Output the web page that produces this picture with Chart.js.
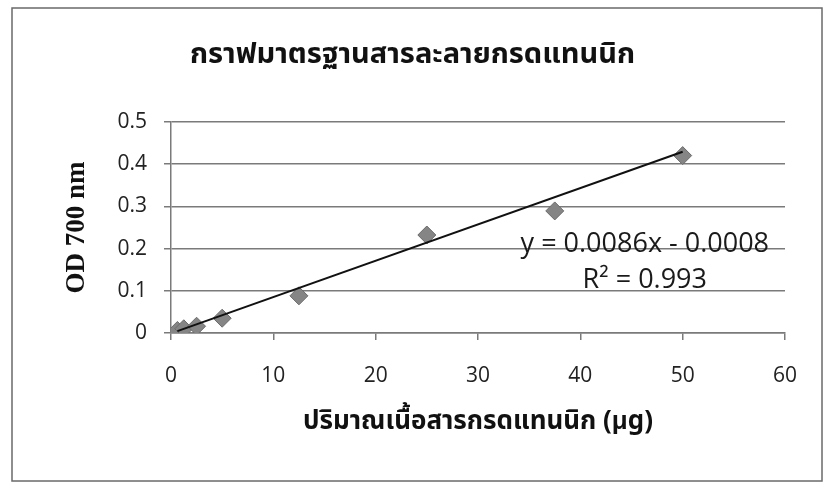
<!DOCTYPE html>
<html>
<head>
<meta charset="utf-8">
<script src="https://cdn.jsdelivr.net/npm/chart.js@4.4.1/dist/chart.umd.min.js"></script>
<style>
  html, body { margin: 0; padding: 0; background: #fff; }
  #wrap { width: 825px; height: 487px; }
</style>
</head>
<body>
<div id="wrap"><canvas id="c" width="825" height="487"></canvas></div>
<script>
// Standard curve: tannic acid amount (µg) vs. absorbance at 700 nm
const amountUg = [0.625, 1.25, 2.5, 5, 12.5, 25, 37.5, 50];
const od700 = [0.006, 0.010, 0.016, 0.035, 0.088, 0.232, 0.289, 0.420];

// Linear fit as reported on the chart
const fitSlope = 0.0086;
const fitIntercept = -0.0008;
const fitR2 = 0.993;

const chartTitle = 'กราฟมาตรฐานสารละลายกรดแทนนิก';
const xTitle = 'ปริมาณเนื้อสารกรดแทนนิก (μg)';
const yTitle = 'OD 700 nm';

const points = amountUg.map((x, i) => ({ x: x, y: od700[i] }));
const xLo = Math.min(...amountUg), xHi = Math.max(...amountUg);
const fitLine = [xLo, xHi].map(x => ({ x: x, y: fitSlope * x + fitIntercept }));

const thaiFont = '"Noto Sans Thai", "Noto Serif Thai", "Loma", "Garuda", "Norasi", sans-serif';
const numFont = '"Open Sans", "Noto Sans", sans-serif';

// outer frame around the whole chart
const framePlugin = {
  id: 'frame',
  beforeDraw(chart) {
    const ctx = chart.ctx;
    ctx.save();
    ctx.fillStyle = '#ffffff';
    ctx.fillRect(0, 0, chart.width, chart.height);
    ctx.strokeStyle = '#6a6a6a';
    ctx.lineWidth = 1.5;
    ctx.strokeRect(12, 8, 810, 473);
    ctx.restore();
  }
};

// equation and R² text beside the fit line
const equationPlugin = {
  id: 'equation',
  afterDatasetsDraw(chart) {
    const ctx = chart.ctx;
    const xs = chart.scales.x, ys = chart.scales.y;
    ctx.save();
    ctx.fillStyle = '#1a1a1a';
    ctx.font = '27px ' + numFont;
    ctx.textAlign = 'center';
    ctx.textBaseline = 'middle';
    const sign = fitIntercept < 0 ? ' - ' : ' + ';
    const eq = 'y = ' + fitSlope.toFixed(4) + 'x' + sign + Math.abs(fitIntercept).toFixed(4);
    const cx = xs.getPixelForValue(46.3);
    ctx.fillText(eq, cx, ys.getPixelForValue(0.211));
    ctx.fillText('R² = ' + fitR2.toFixed(3), cx, ys.getPixelForValue(0.124));
    ctx.restore();
  }
};

new Chart(document.getElementById('c'), {
  type: 'scatter',
  data: {
    datasets: [
      {
        type: 'line',
        data: fitLine,
        borderColor: '#111111',
        borderWidth: 2,
        pointRadius: 0,
        fill: false,
        order: 0
      },
      {
        data: points,
        pointStyle: 'rectRot',
        pointRadius: 9,
        pointHoverRadius: 9,
        backgroundColor: '#858585',
        borderColor: '#6c6c6c',
        borderWidth: 1,
        order: 1
      }
    ]
  },
  options: {
    responsive: false,
    animation: false,
    events: [],
    layout: { padding: { top: 0, left: 40, right: 40, bottom: 20 } },
    plugins: {
      legend: { display: false },
      tooltip: { enabled: false },
      title: {
        display: true,
        text: chartTitle,
        color: '#111',
        font: { family: thaiFont, size: 29, weight: 'bold' },
        padding: { top: 40, bottom: 47 }
      }
    },
    scales: {
      x: {
        type: 'linear',
        min: 0, max: 60,
        ticks: { stepSize: 10, color: '#222', font: { family: numFont, size: 21 }, padding: 23, maxRotation: 0 },
        grid: { drawOnChartArea: false, drawTicks: true, tickLength: 7, color: '#7a7a7a', lineWidth: 1.5 },
        border: { display: true, color: '#7a7a7a', width: 1.5 },
        title: {
          display: true,
          text: xTitle,
          color: '#111',
          font: { family: thaiFont, size: 26, weight: 'bold' },
          padding: { top: 0, bottom: 28 }
        },
        afterFit(scale) { scale.height = 134; }
      },
      y: {
        type: 'linear',
        min: 0, max: 0.5,
        ticks: { stepSize: 0.1, color: '#222', font: { family: numFont, size: 21 }, padding: 17 },
        grid: { drawTicks: true, tickLength: 7, color: '#7a7a7a', lineWidth: 1.5 },
        border: { display: true, color: '#7a7a7a', width: 1.5 },
        title: {
          display: true,
          text: yTitle,
          color: '#111',
          font: { family: '"Liberation Serif", "Times New Roman", serif', size: 27, weight: 'bold' },
          padding: { top: 21, bottom: 0 }
        },
        afterFit(scale) { scale.width = 131; }
      }
    }
  },
  plugins: [framePlugin, equationPlugin]
});
</script>
</body>
</html>
